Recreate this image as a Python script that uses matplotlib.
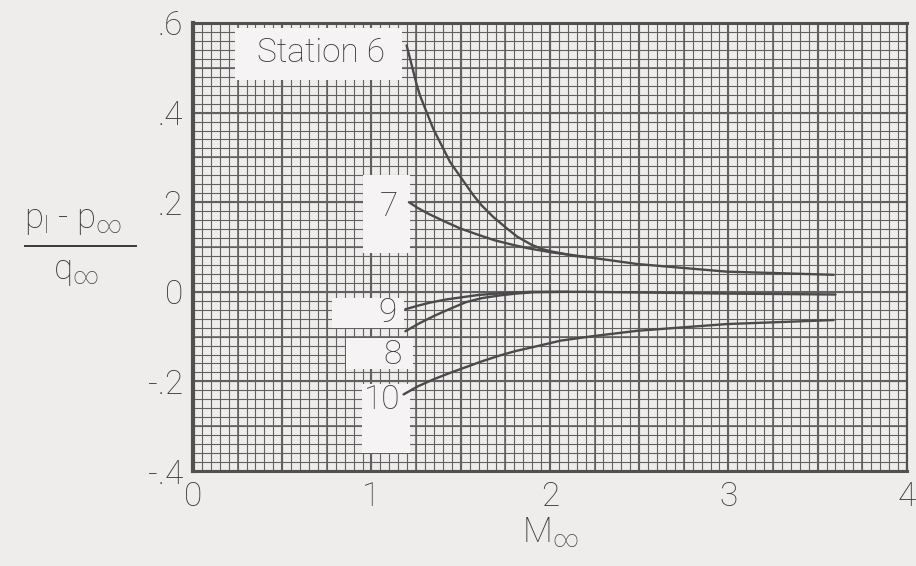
import numpy as np
import matplotlib.pyplot as plt
from matplotlib.patches import Rectangle
from matplotlib.lines import Line2D

plt.rcParams['font.family'] = ['Roboto', 'DejaVu Sans']
plt.rcParams['font.weight'] = 'light'
plt.rcParams['axes.labelweight'] = 'light'
plt.rcParams['mathtext.fontset'] = 'custom'
plt.rcParams['mathtext.rm'] = 'Roboto:light'
plt.rcParams['mathtext.it'] = 'Roboto:light'

# local pressure coefficient against free-stream Mach number, by station
m_6 = [1.197, 1.221, 1.253, 1.272, 1.318, 1.346, 1.412, 1.440, 1.505, 1.570,
       1.617, 1.680, 1.757, 1.817, 1.897, 1.960, 2.010, 2.140, 2.220]
cp_6 = [0.550, 0.513, 0.463, 0.438, 0.392, 0.364, 0.312, 0.290, 0.253, 0.216,
        0.193, 0.168, 0.142, 0.123, 0.105, 0.095, 0.090, 0.080, 0.077]
m_7 = [1.21, 1.26, 1.32, 1.41, 1.50, 1.60, 1.69, 1.79, 1.88, 2.01, 2.20, 2.49, 2.99, 3.59]
cp_7 = [0.200, 0.187, 0.174, 0.157, 0.141, 0.127, 0.115, 0.105, 0.097, 0.088,
        0.078, 0.062, 0.045, 0.038]
m_8 = [1.19, 1.27, 1.35, 1.44, 1.53, 1.62, 1.72, 1.81, 1.91, 2.10]
cp_8 = [-0.088, -0.070, -0.054, -0.038, -0.023, -0.014, -0.008, -0.004, -0.001, 0.000]
m_9 = [1.19, 1.26, 1.33, 1.42, 1.51, 1.60, 1.70, 1.89, 2.20, 2.60, 3.00, 3.60]
cp_9 = [-0.039, -0.031, -0.024, -0.017, -0.012, -0.007, -0.004, 0.000, 0.000,
        -0.002, -0.004, -0.006]
m_10 = [1.18, 1.26, 1.35, 1.44, 1.53, 1.62, 1.72, 1.81, 1.91, 2.06, 2.24, 2.49, 2.99, 3.59]
cp_10 = [-0.229, -0.211, -0.195, -0.181, -0.168, -0.155, -0.142, -0.132, -0.123,
         -0.109, -0.099, -0.087, -0.072, -0.063]

x_ticks = [0, 1, 2, 3, 4]
x_labels = ['0', '1', '2', '3', '4']
y_ticks = [0.6, 0.4, 0.2, 0.0, -0.2, -0.4]
y_labels = ['.6', '.4', '.2', '0', '-.2', '-.4']

paper = '#efecec'
ink = '#3a3a3a'
line_c = '#4a4a4a'
grid_c = '#606060'

fig = plt.figure(figsize=(9.16, 5.66), dpi=100, facecolor=paper)
ax = fig.add_axes([0.2107, 0.1678, 0.7793, 0.7916])
ax.set_facecolor(paper)
ax.set_xlim(0, 4)
ax.set_ylim(-0.4, 0.6)

# graph paper: fine, medium and heavy rulings
for step, lw in [(0.05, 0.8), (0.25, 1.15), (0.5, 1.5)]:
    ax.vlines(np.arange(0, 4.001, step), -0.4, 0.6, color=grid_c, lw=lw, zorder=1)
for step, lw in [(0.02, 0.8), (0.1, 1.15), (0.2, 1.5)]:
    ax.hlines(np.arange(-0.4, 0.6001, step), 0, 4, color=grid_c, lw=lw, zorder=1)

# blanked patches behind the curve labels
blank = '#f5f3f3'
for x0, x1, y0, y1 in [(0.235, 1.17, 0.472, 0.588),
                       (0.952, 1.215, 0.087, 0.260),
                       (0.780, 1.180, -0.081, -0.013),
                       (0.860, 1.230, -0.172, -0.103),
                       (0.947, 1.216, -0.360, -0.206)]:
    ax.add_patch(Rectangle((x0, y0), x1 - x0, y1 - y0, facecolor=blank,
                           edgecolor='none', zorder=2))

for m, cp in [(m_6, cp_6), (m_7, cp_7), (m_8, cp_8), (m_9, cp_9), (m_10, cp_10)]:
    ax.plot(m, cp, color=line_c, lw=1.7, zorder=3, solid_capstyle='round',
            solid_joinstyle='round')

lab = dict(fontsize=24, color=ink, ha='center', va='center', zorder=4)
ax.text(0.72, 0.532, 'Station 6', **lab)
ax.text(1.10, 0.190, '7', **lab)
ax.text(1.09, -0.047, '9', **lab)
ax.text(1.12, -0.140, '8', **lab)
ax.text(1.06, -0.242, '10', **lab)

ax.set_xticks(x_ticks, x_labels)
ax.set_yticks(y_ticks, y_labels)
ax.tick_params(length=0, labelsize=24, labelcolor=ink, pad=7)

for side, lw in [('left', 3.0), ('top', 2.2), ('bottom', 2.2), ('right', 1.6)]:
    ax.spines[side].set_linewidth(lw)
    ax.spines[side].set_color('#505050')
    ax.spines[side].set_zorder(5)

ax.set_xlabel(r'M$_\infty$', fontsize=25, color=ink, labelpad=2,
              fontweight='light')

# y label drawn as a built-up fraction
fig.text(0.080, 0.610, r'p$_l$ - p$_\infty$', fontsize=25, color=ink,
         ha='center', va='center')
fig.add_artist(Line2D([0.027, 0.148], [0.566, 0.566], color=ink, lw=1.4))
fig.text(0.083, 0.520, r'q$_\infty$', fontsize=25, color=ink,
         ha='center', va='center')

fig.savefig('out.png', dpi=100, facecolor=paper)
